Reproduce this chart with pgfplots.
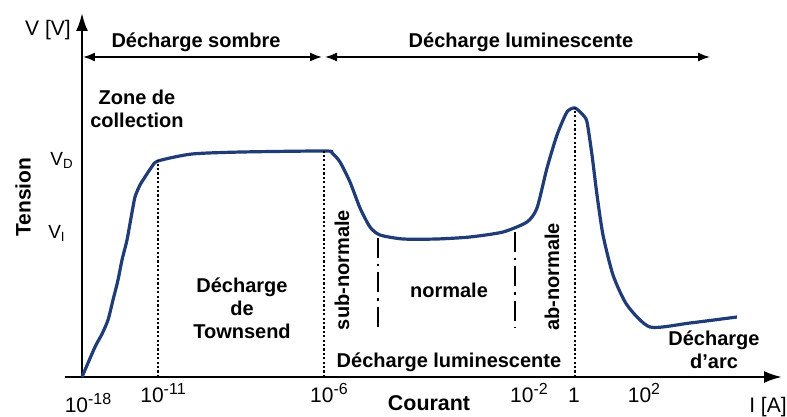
\documentclass[border=0pt]{standalone}
\usepackage{pgfplots}
\pgfplotsset{compat=1.18}
\usepackage{fontspec}
\setmainfont{Liberation Sans}
\usetikzlibrary{arrows.meta}
\definecolor{courbe}{RGB}{32,60,118}
% etiquette de graduation 10^n
\newcommand{\pw}[1]{{\fontsize{10.5}{11}\selectfont 10\raisebox{0.42em}{\fontsize{8}{9}\selectfont #1}}}
\begin{document}
\begin{tikzpicture}
\begin{axis}[
  x=0.5pt, y=0.5pt,
  xmin=-17, xmax=700, ymin=0, ymax=364,
  axis lines=middle,
  axis line style={line width=1.2pt, -{Latex[length=9pt,width=6pt]}},
  clip=false,
  hide obscured x ticks=false,
  ytick=\empty,
  xtick={81,247,447,492,562},
  xticklabels={\pw{-11},\pw{-6},\pw{-2},{\fontsize{10.5}{11}\selectfont 1},\pw{2}},
  major tick length=0pt,
  xticklabel style={anchor=base, yshift=-13pt},
  extra x ticks={6},
  extra x tick labels={\pw{-18}},
  extra x tick style={xticklabel style={yshift=-5pt}},
]
% courbe tension-courant
\addplot[courbe, line width=1.6pt, smooth, tension=0.4] coordinates {
  (0,0) (13,30) (20,43) (26,57) (31,77) (36,97) (40,117) (45,137) (49,159)
  (53,180) (58,192) (63,200) (69,209) (76,216)
  (110,223) (160,225) (243,226) (250,224) (258,215) (268,195) (278,169)
  (288,150) (298,142) (321,138) (355,138) (388,140) (421,145) (445,155)
  (455,169) (465,209) (475,242) (485,265) (493,269) (501,262) (505,255)
  (510,222) (515,182) (521,142) (531,102) (545,72) (568,50) (608,54) (655,60)
};
% limites des zones
\addplot[black, line width=1.2pt, dash pattern=on 1.1pt off 1.1pt] coordinates {(76,0) (76,217)};
\addplot[black, line width=1.2pt, dash pattern=on 1.1pt off 1.1pt] coordinates {(242,0) (242,226)};
\addplot[black, line width=1.2pt, dash pattern=on 1.1pt off 1.1pt] coordinates {(493,0) (493,269)};
\addplot[black, line width=0.9pt, dash pattern=on 10pt off 3pt on 1.2pt off 3pt] coordinates {(296,139) (296,50)};
\addplot[black, line width=0.9pt, dash pattern=on 10pt off 3pt on 1.2pt off 3pt] coordinates {(433,145) (433,49)};
% fleches du haut
\draw[line width=0.8pt, {Latex[length=6pt,width=4.5pt]}-{Latex[length=6pt,width=4.5pt]}] (axis cs:1,320) -- (axis cs:240,320);
\draw[line width=0.8pt, {Latex[length=6pt,width=4.5pt]}-{Latex[length=6pt,width=4.5pt]}] (axis cs:243,320) -- (axis cs:628,320);
% textes
\begin{scope}[every node/.style={font=\fontsize{10}{11.5}\selectfont\bfseries, align=center, inner sep=0pt}]
\node at (axis cs:114,335) {Décharge sombre};
\node at (axis cs:439,335) {Décharge luminescente};
\node at (axis cs:55,268) {Zone de\\collection};
\node at (axis cs:160,69) {Décharge\\de\\Townsend};
\node[rotate=90] at (axis cs:260,107) {sub-normale};
\node at (axis cs:367,87) {normale};
\node[rotate=90] at (axis cs:470,100) {ab-normale};
\node at (axis cs:367,15) {Décharge luminescente};
\node at (axis cs:632,27) {Décharge\\d'arc};
\node[font=\fontsize{10.7}{12}\selectfont\bfseries] at (axis cs:347,-26) {Courant};
\node[font=\fontsize{10.5}{12}\selectfont\bfseries, rotate=90] at (axis cs:-59,180) {Tension};
\end{scope}
\node[font=\fontsize{10.5}{12}\selectfont, inner sep=0pt] at (axis cs:-34,347) {V [V]};
\node[font=\fontsize{10.5}{12}\selectfont, inner sep=0pt] at (axis cs:686,-30) {I [A]};
\node[font=\fontsize{9.5}{10}\selectfont, inner sep=0pt] at (axis cs:-20,217) {V\textsubscript{D}};
\node[font=\fontsize{9.5}{10}\selectfont, inner sep=0pt] at (axis cs:-25,144) {V\textsubscript{I}};
\coordinate (bl) at (axis cs:-82,-40);
\coordinate (tr) at (axis cs:705,377);
\end{axis}
\pgfresetboundingbox
\useasboundingbox (bl) rectangle (tr);
\end{tikzpicture}
\end{document}
